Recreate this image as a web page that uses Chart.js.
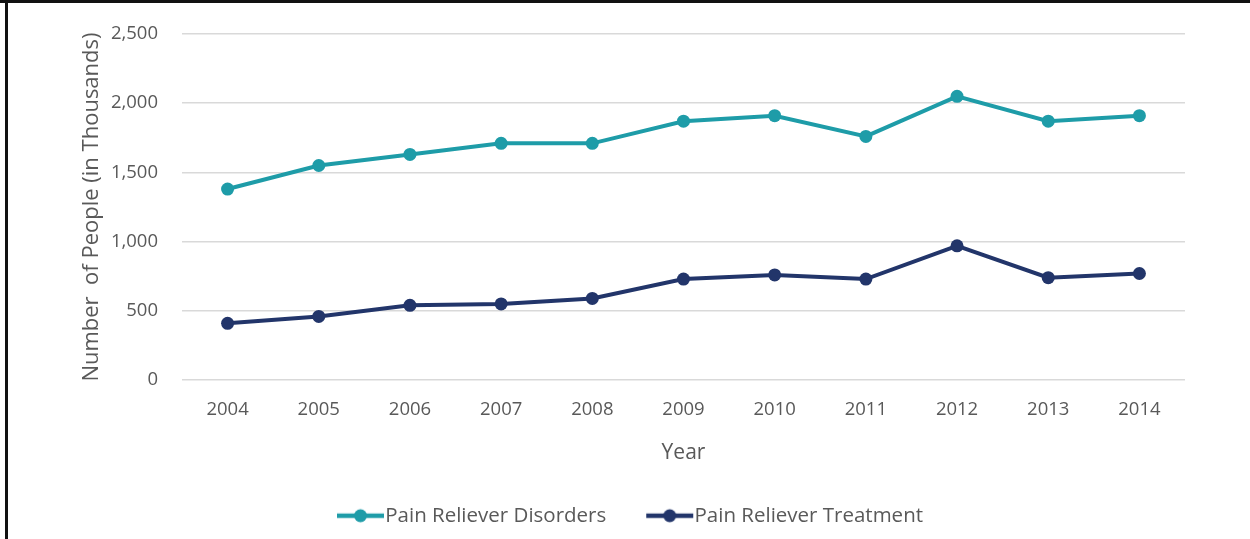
<!DOCTYPE html>
<html>
<head>
<meta charset="utf-8">
<title>Pain Reliever Disorders and Treatment</title>
<script src="https://cdn.jsdelivr.net/npm/chart.js@4.4.0/dist/chart.umd.min.js"></script>
<style>
  html, body { margin: 0; padding: 0; background: #fff; }
  body { width: 1250px; height: 539px; position: relative; overflow: hidden; }
  #topRule { position: absolute; left: 0; top: 0; width: 1250px; height: 3px; background: #111; }
  #leftRule { position: absolute; left: 5px; top: 0; width: 3px; height: 539px; background: #111; }
  #wrap { position: absolute; left: 8px; top: 3px; width: 1242px; height: 536px; }
</style>
</head>
<body>
<div id="topRule"></div>
<div id="leftRule"></div>
<div id="wrap"><canvas id="painChart"></canvas></div>
<script>
// Survey years
const years = ['2004', '2005', '2006', '2007', '2008', '2009', '2010', '2011', '2012', '2013', '2014'];

// People with a pain reliever use disorder (thousands)
const disorders = [1380, 1550, 1630, 1710, 1710, 1870, 1910, 1760, 2050, 1870, 1910];

// People receiving treatment for pain reliever use (thousands)
const treatment = [410, 460, 540, 550, 590, 730, 760, 730, 970, 740, 770];

const yTicks = [0, 500, 1000, 1500, 2000, 2500];

const TEAL = '#1e9ca8';
const NAVY = '#22356a';
const TEXT = '#595959';
const FONT = "'Open Sans', 'Noto Sans', sans-serif";

// line-with-dot legend marker; the drawing sits in the middle of a wider
// transparent canvas so it lines up flush with the label text
function legendMarker(color) {
    const c = document.createElement('canvas');
    c.width = 96;
    c.height = 16;
    const g = c.getContext('2d');
    g.strokeStyle = color;
    g.lineWidth = 4.5;
    g.beginPath();
    g.moveTo(29, 8);
    g.lineTo(76, 8);
    g.stroke();
    g.fillStyle = color;
    g.beginPath();
    g.arc(52.5, 8, 6.5, 0, Math.PI * 2);
    g.fill();
    return c;
}

const markers = [legendMarker(TEAL), legendMarker(NAVY)];

const ctx = document.getElementById('painChart').getContext('2d');

new Chart(ctx, {
    type: 'line',
    data: {
        labels: years,
        datasets: [{
            label: 'Pain Reliever Disorders',
            data: disorders,
            borderColor: TEAL,
            backgroundColor: TEAL,
            borderWidth: 4,
            pointRadius: 6.5,
            pointBorderWidth: 0,
            tension: 0
        }, {
            label: 'Pain Reliever Treatment',
            data: treatment,
            borderColor: NAVY,
            backgroundColor: NAVY,
            borderWidth: 4,
            pointRadius: 6.5,
            pointBorderWidth: 0,
            tension: 0
        }]
    },
    options: {
        responsive: true,
        maintainAspectRatio: false,
        animation: false,
        layout: { padding: { left: 67, right: 65, top: 31, bottom: 3 } },
        plugins: {
            tooltip: { enabled: false },
            legend: {
                position: 'bottom',
                labels: {
                    color: TEXT,
                    font: { family: FONT, size: 20.5 },
                    usePointStyle: true,
                    pointStyleWidth: 38,
                    padding: 40,
                    boxHeight: 20,
                    generateLabels: (chart) => chart.data.datasets.map((ds, i) => ({
                        text: ds.label,
                        datasetIndex: i,
                        pointStyle: markers[i],
                        fontColor: TEXT,
                        lineWidth: 0,
                        hidden: false
                    }))
                }
            }
        },
        scales: {
            x: {
                offset: true,
                grid: { display: false, drawTicks: false },
                border: { display: false },
                ticks: {
                    color: TEXT,
                    padding: 19,
                    font: { family: FONT, size: 18.5 }
                },
                title: {
                    display: true,
                    text: 'Year',
                    color: TEXT,
                    font: { family: FONT, size: 21 },
                    padding: { top: 0, bottom: 0 }
                }
            },
            y: {
                min: 0,
                max: 2500,
                afterBuildTicks: (scale) => {
                    scale.ticks = yTicks.map(v => ({ value: v }));
                },
                afterFit: (scale) => {
                    // fixed axis width; top spacing comes from layout padding
                    scale.width = 107;
                    scale.paddingTop = 0;
                },
                grid: { color: '#d9d9d9', lineWidth: 1.5, drawTicks: false },
                border: { display: false },
                ticks: {
                    color: TEXT,
                    padding: 24,
                    font: { family: FONT, size: 18.5 },
                    callback: (v) => v.toLocaleString('en-US')
                },
                title: {
                    display: true,
                    text: 'Number  of People (in Thousands)',
                    color: TEXT,
                    font: { family: FONT, size: 22 },
                    padding: { top: 4, bottom: 5 }
                }
            }
        }
    }
});
</script>
</body>
</html>
